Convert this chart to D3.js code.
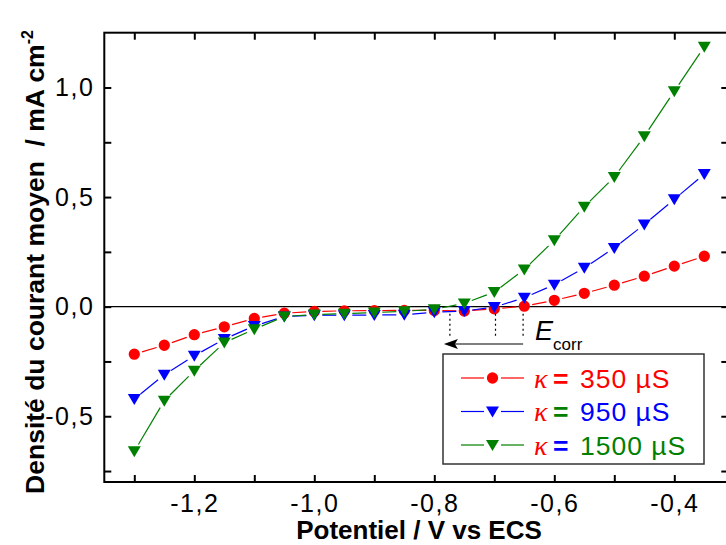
<!DOCTYPE html>
<html>
<head>
<meta charset="utf-8">
<script src="https://cdn.jsdelivr.net/npm/d3@7"></script>
<style>
    body { margin: 0; background: #fff; }
    svg { display: block; }
</style>
</head>
<body>
<div id="chart"></div>
<script>
// potentiel (V vs ECS) and courant moyen (mA cm-2)
const potentials = [-1.30, -1.25, -1.20, -1.15, -1.10, -1.05, -1.00, -0.95, -0.90, -0.85,
                    -0.80, -0.75, -0.70, -0.65, -0.60, -0.55, -0.50, -0.45, -0.40, -0.35];
const current350 = [-0.217, -0.176, -0.128, -0.092, -0.054, -0.030, -0.022, -0.019, -0.018, -0.017,
                    -0.017, -0.020, -0.010, 0.002, 0.029, 0.061, 0.098, 0.139, 0.185, 0.230];
const current950 = [-0.421, -0.311, -0.224, -0.148, -0.088, -0.045, -0.039, -0.039, -0.038, -0.037,
                    -0.025, -0.020, -0.002, 0.041, 0.100, 0.177, 0.268, 0.375, 0.490, 0.605];
const current1500 = [-0.660, -0.429, -0.292, -0.164, -0.103, -0.045, -0.036, -0.032, -0.027, -0.021,
                     -0.012, 0.015, 0.067, 0.170, 0.303, 0.456, 0.592, 0.777, 0.983, 1.186];
const ecorrValues = [-0.652, -0.698, -0.774];
const seriesLabels = ["350 µS", "950 µS", "1500 µS"];
const xTickValues = [-1.3, -1.2, -1.1, -1.0, -0.9, -0.8, -0.7, -0.6, -0.5, -0.4];
const yTickValues = [-0.75, -0.5, -0.25, 0, 0.25, 0.5, 0.75, 1.0];

const FONT = "Arial, 'Liberation Sans', sans-serif";

class PolarisationChart {
    constructor(id) {
        this.id = id;
        this.width = 726;
        this.height = 545;
        this.x = d3.scaleLinear().domain([-1.35, -0.31]).range([104.3, 728.3]);
        this.y = d3.scaleLinear().domain([-0.8, 1.25]).range([482, 32.7]);
        const locale = d3.formatLocale({ decimal: ",", thousands: ".", grouping: [3], currency: ["", ""], minus: "-" });
        this.fmt = locale.format(".1f");
        this.series = [
            { name: seriesLabels[0], values: current350, color: "#ff0000", eqColor: "#ff0000", symbol: "circle" },
            { name: seriesLabels[1], values: current950, color: "#0000ff", eqColor: "#008000", symbol: "triangle" },
            { name: seriesLabels[2], values: current1500, color: "#008000", eqColor: "#0000ff", symbol: "triangle" }
        ];
    }

    draw() {
        this.svg = d3.select(this.id).append("svg")
            .attr("width", this.width)
            .attr("height", this.height);
        this.drawAxes();
        this.drawSeries();
        this.drawEcorr();
        this.drawLegend();
        this.drawTitles();
    }

    drawAxes() {
        const [x0, x1] = this.x.range();
        const [y0, y1] = this.y.range();
        const tick = 7;
        const xMajor = d => Math.round(Math.abs(d) * 10) % 2 === 0;
        const yMajor = d => Math.round(Math.abs(d) * 100) % 50 === 0;

        const styleAxis = g => {
            g.select(".domain").remove();
            g.selectAll(".tick line").attr("stroke", "#000").attr("stroke-width", 2);
            g.selectAll(".tick text")
                .style("font-family", FONT)
                .style("font-size", "25px")
                .style("letter-spacing", "1.5px")
                .attr("fill", "#000");
        };

        this.svg.append("g")
            .attr("transform", `translate(0,${y0})`)
            .call(d3.axisBottom(this.x).tickValues(xTickValues).tickSize(-tick).tickPadding(12)
                .tickFormat(d => xMajor(d) ? this.fmt(d) : ""))
            .call(styleAxis);
        this.svg.append("g")
            .attr("transform", `translate(0,${y1})`)
            .call(d3.axisTop(this.x).tickValues(xTickValues).tickSize(-tick).tickFormat(""))
            .call(styleAxis);
        this.svg.append("g")
            .attr("transform", `translate(${x0},0)`)
            .call(d3.axisLeft(this.y).tickValues(yTickValues).tickSize(-tick).tickPadding(10)
                .tickFormat(d => yMajor(d) ? this.fmt(d) : ""))
            .call(styleAxis);
        this.svg.append("g")
            .attr("transform", `translate(${x1},0)`)
            .call(d3.axisRight(this.y).tickValues(yTickValues).tickSize(-tick).tickFormat(""))
            .call(styleAxis);

        this.svg.append("rect")
            .attr("x", x0).attr("y", y1)
            .attr("width", x1 - x0).attr("height", y0 - y1)
            .attr("fill", "none")
            .attr("stroke", "#000")
            .attr("stroke-width", 2);

        // zero line
        this.svg.append("line")
            .attr("x1", x0).attr("x2", x1)
            .attr("y1", this.y(0)).attr("y2", this.y(0))
            .attr("stroke", "#000")
            .attr("stroke-width", 1.2);
    }

    symbolPath(type) {
        if (type === "circle") return d3.symbol(d3.symbolCircle, 100)();
        // downward triangle
        return "M-6.5,-5L6.5,-5L0,6Z";
    }

    // Origin style: line segments stop short of the symbols
    gappedSegments(pts, gap) {
        const segs = [];
        for (let i = 0; i < pts.length - 1; i++) {
            const [ax, ay] = pts[i];
            const [bx, by] = pts[i + 1];
            const len = Math.hypot(bx - ax, by - ay);
            if (len <= 2 * gap) continue;
            const ux = (bx - ax) / len, uy = (by - ay) / len;
            segs.push([ax + ux * gap, ay + uy * gap, bx - ux * gap, by - uy * gap]);
        }
        return segs;
    }

    drawSeries() {
        this.series.forEach(s => {
            const pts = potentials.map((p, i) => [this.x(p), this.y(s.values[i])]);
            const g = this.svg.append("g").attr("class", "series");
            g.selectAll("line")
                .data(this.gappedSegments(pts, 8))
                .enter().append("line")
                .attr("x1", d => d[0]).attr("y1", d => d[1])
                .attr("x2", d => d[2]).attr("y2", d => d[3])
                .attr("stroke", s.color)
                .attr("stroke-width", 1.2);
            g.selectAll("path")
                .data(pts)
                .enter().append("path")
                .attr("d", this.symbolPath(s.symbol))
                .attr("transform", d => `translate(${d[0]},${d[1]})`)
                .attr("fill", s.color);
        });
    }

    drawEcorr() {
        const g = this.svg.append("g").attr("class", "ecorr");
        g.selectAll("line.drop")
            .data(ecorrValues)
            .enter().append("line")
            .attr("class", "drop")
            .attr("x1", d => this.x(d)).attr("x2", d => this.x(d))
            .attr("y1", this.y(0) + 7).attr("y2", 338)
            .attr("stroke", "#000")
            .attr("stroke-width", 1.2)
            .attr("stroke-dasharray", "2,3");

        const arrowY = 344;
        const xs = this.x(d3.max(ecorrValues));
        const xe = this.x(d3.min(ecorrValues)) - 6;
        g.append("line")
            .attr("x1", xs).attr("x2", xe + 10)
            .attr("y1", arrowY).attr("y2", arrowY)
            .attr("stroke", "#000")
            .attr("stroke-width", 1.2);
        g.append("path")
            .attr("d", `M${xe},${arrowY}L${xe + 14},${arrowY - 5}L${xe + 11},${arrowY}L${xe + 14},${arrowY + 5}Z`)
            .attr("fill", "#000");

        const label = g.append("text")
            .attr("x", 535).attr("y", 340)
            .style("font-family", FONT)
            .attr("fill", "#000");
        label.append("tspan").style("font-style", "italic").style("font-size", "27px").text("E");
        label.append("tspan").attr("dy", 10).style("font-size", "17px").text("corr");
    }

    drawLegend() {
        const lg = this.svg.append("g").attr("class", "legend");
        lg.append("rect")
            .attr("x", 443).attr("y", 354)
            .attr("width", 261).attr("height", 110)
            .attr("fill", "#fff")
            .attr("stroke", "#333")
            .attr("stroke-width", 1.5);

        const items = lg.selectAll(".legend-item")
            .data(this.series)
            .enter().append("g")
            .attr("class", "legend-item")
            .attr("transform", (d, i) => `translate(0,${378 + i * 33.5})`);

        items.append("line")
            .attr("x1", 461).attr("x2", 484).attr("y1", 0).attr("y2", 0)
            .attr("stroke", d => d.color).attr("stroke-width", 1.2);
        items.append("line")
            .attr("x1", 501).attr("x2", 524).attr("y1", 0).attr("y2", 0)
            .attr("stroke", d => d.color).attr("stroke-width", 1.2);
        items.append("path")
            .attr("d", d => this.symbolPath(d.symbol))
            .attr("transform", "translate(492.5,0)")
            .attr("fill", d => d.color);

        const txt = items.append("text")
            .attr("x", 534).attr("y", 9.5)
            .style("font-family", FONT)
            .style("font-size", "26.5px");
        txt.append("tspan")
            .style("font-family", "'Liberation Serif', 'DejaVu Serif', serif")
            .style("font-style", "italic")
            .style("font-size", "28px")
            .attr("fill", "#ff0000")
            .text("κ");
        txt.append("tspan")
            .attr("x", 553)
            .style("font-weight", "bold")
            .attr("fill", d => d.eqColor)
            .text("=");
        txt.append("tspan")
            .attr("x", 580)
            .style("letter-spacing", "1px")
            .attr("fill", d => d.color)
            .text(d => d.name);
    }

    drawTitles() {
        this.svg.append("text")
            .attr("x", 419).attr("y", 539)
            .attr("text-anchor", "middle")
            .style("font-family", FONT)
            .style("font-size", "26px")
            .style("font-weight", "bold")
            .text("Potentiel / V vs ECS");

        const yt = this.svg.append("text")
            .attr("transform", "translate(44,262) rotate(-90)")
            .attr("text-anchor", "middle")
            .style("font-family", FONT)
            .style("font-size", "26.5px")
            .style("font-weight", "bold");
        yt.append("tspan").text("Densité du courant moyen \u00a0/ mA cm");
        yt.append("tspan").attr("dy", -11).style("font-size", "16px").text("-2");
    }
}

const chart = new PolarisationChart("#chart");
chart.draw();
</script>
</body>
</html>
